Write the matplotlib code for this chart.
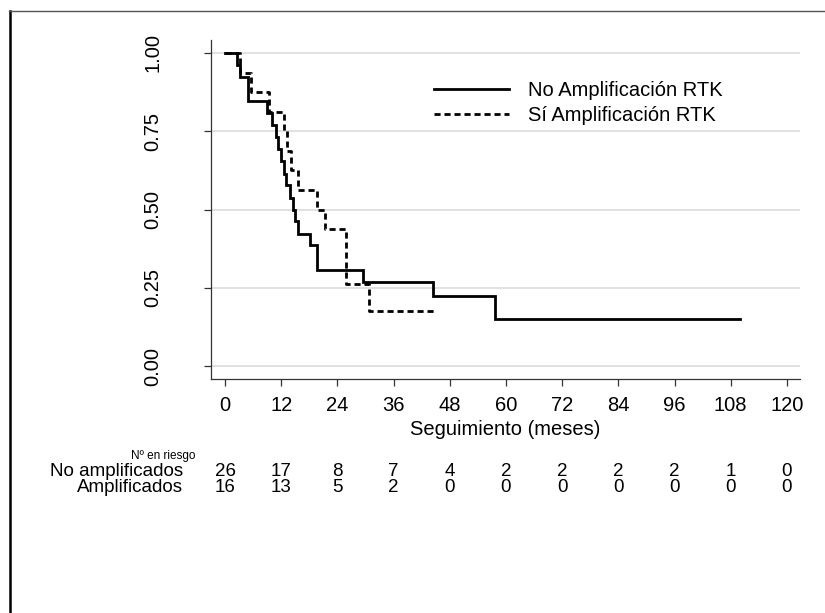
import matplotlib
matplotlib.use("Agg")
import matplotlib.pyplot as plt
from matplotlib.lines import Line2D
from matplotlib import transforms

plt.rcParams['font.family'] = ['Liberation Sans', 'DejaVu Sans']

# Kaplan-Meier estimates (time in months, survival probability)
no_amp_t = [0, 2.6, 3.3, 5.0, 9.0, 10.0, 10.8, 11.4, 12.0, 12.6, 13.0, 13.9,
            14.5, 15.0, 15.6, 18.1, 19.6, 29.5, 44.5, 57.7, 110.0]
no_amp_s = [1.0, 0.962, 0.923, 0.846, 0.808, 0.769, 0.731, 0.692, 0.654, 0.615,
            0.577, 0.538, 0.500, 0.462, 0.423, 0.385, 0.308, 0.269, 0.224, 0.150, 0.150]

amp_t = [0, 3.2, 5.6, 9.4, 12.6, 13.3, 14.0, 15.6, 19.6, 21.4, 25.8, 30.7, 45.2]
amp_s = [1.0, 0.9375, 0.875, 0.8125, 0.75, 0.6875, 0.625, 0.5625, 0.5, 0.4375,
         0.2625, 0.175, 0.175]

labels = ["No Amplificación RTK", "Sí Amplificación RTK"]

x_ticks = [0, 12, 24, 36, 48, 60, 72, 84, 96, 108, 120]
y_ticks = [0.00, 0.25, 0.50, 0.75, 1.00]

risk_rows = ["No amplificados", "Amplificados"]
risk_no_amp = [26, 17, 8, 7, 4, 2, 2, 2, 2, 1, 0]
risk_amp = [16, 13, 5, 2, 0, 0, 0, 0, 0, 0, 0]

W, H = 825, 613
fig = plt.figure(figsize=(W / 100, H / 100), dpi=100)

def fx(px):
    return px / W

def fy(py):
    return 1 - py / H

ax = fig.add_axes([fx(211), fy(379), fx(800) - fx(211), fy(40) - fy(379)])

FS = 14.5
FS_TAB = 13.5
ax.step(no_amp_t, no_amp_s, where='post', color='black', lw=2.0,
        solid_joinstyle='miter', label=labels[0])
ax.step(amp_t, amp_s, where='post', color='black', lw=2.0,
        linestyle=(0, (2.2, 1.4)), label=labels[1])

ax.set_xlim(-3.0, 122.8)
ax.set_ylim(-0.0415, 1.0415)
ax.set_xticks(x_ticks)
ax.set_xticklabels([str(v) for v in x_ticks])
ax.set_yticks(y_ticks)
ax.set_yticklabels([f"{v:.2f}" for v in y_ticks], rotation=90, va='center')

for y in y_ticks:
    ax.axhline(y, color='#dcdcdc', lw=1.2, zorder=0)

for side in ['top', 'right']:
    ax.spines[side].set_visible(False)
for side in ['left', 'bottom']:
    ax.spines[side].set_color('#333333')
    ax.spines[side].set_linewidth(0.9)

ax.tick_params(axis='x', length=5, width=0.9, color='#333333', pad=7, labelsize=FS)
ax.tick_params(axis='y', length=5, width=0.9, color='#333333', pad=30, labelsize=FS)
ax.set_xlabel("Seguimiento (meses)", fontsize=FS, labelpad=4)

leg = ax.legend(loc='upper left', bbox_to_anchor=(fx(434), fy(81)),
                bbox_transform=fig.transFigure, frameon=False, fontsize=FS,
                handlelength=3.7, handletextpad=0.95, labelspacing=0.3,
                borderpad=0, borderaxespad=0)

# Number-at-risk table under the axis
tr = transforms.blended_transform_factory(ax.transData, fig.transFigure)
fig.text(fx(163), fy(456), "Nº en riesgo", fontsize=8.5, ha='center', va='center')
for row_y, name, counts in [(471, risk_rows[0], risk_no_amp),
                            (487, risk_rows[1], risk_amp)]:
    fig.text(fx(183), fy(row_y), name, fontsize=FS_TAB, ha='right', va='center')
    for xv, c in zip(x_ticks, counts):
        ax.text(xv, fy(row_y), str(c), transform=tr, fontsize=FS_TAB,
                ha='center', va='center', clip_on=False)

# Outer frame
fig.add_artist(Line2D([fx(9.5), fx(9.5)], [fy(11), fy(613)], color='black',
                      lw=1.8, transform=fig.transFigure))
fig.add_artist(Line2D([fx(9), fx(825)], [fy(11), fy(11)], color='#555555',
                      lw=1.0, transform=fig.transFigure))

fig.savefig("out.png", dpi=100)
